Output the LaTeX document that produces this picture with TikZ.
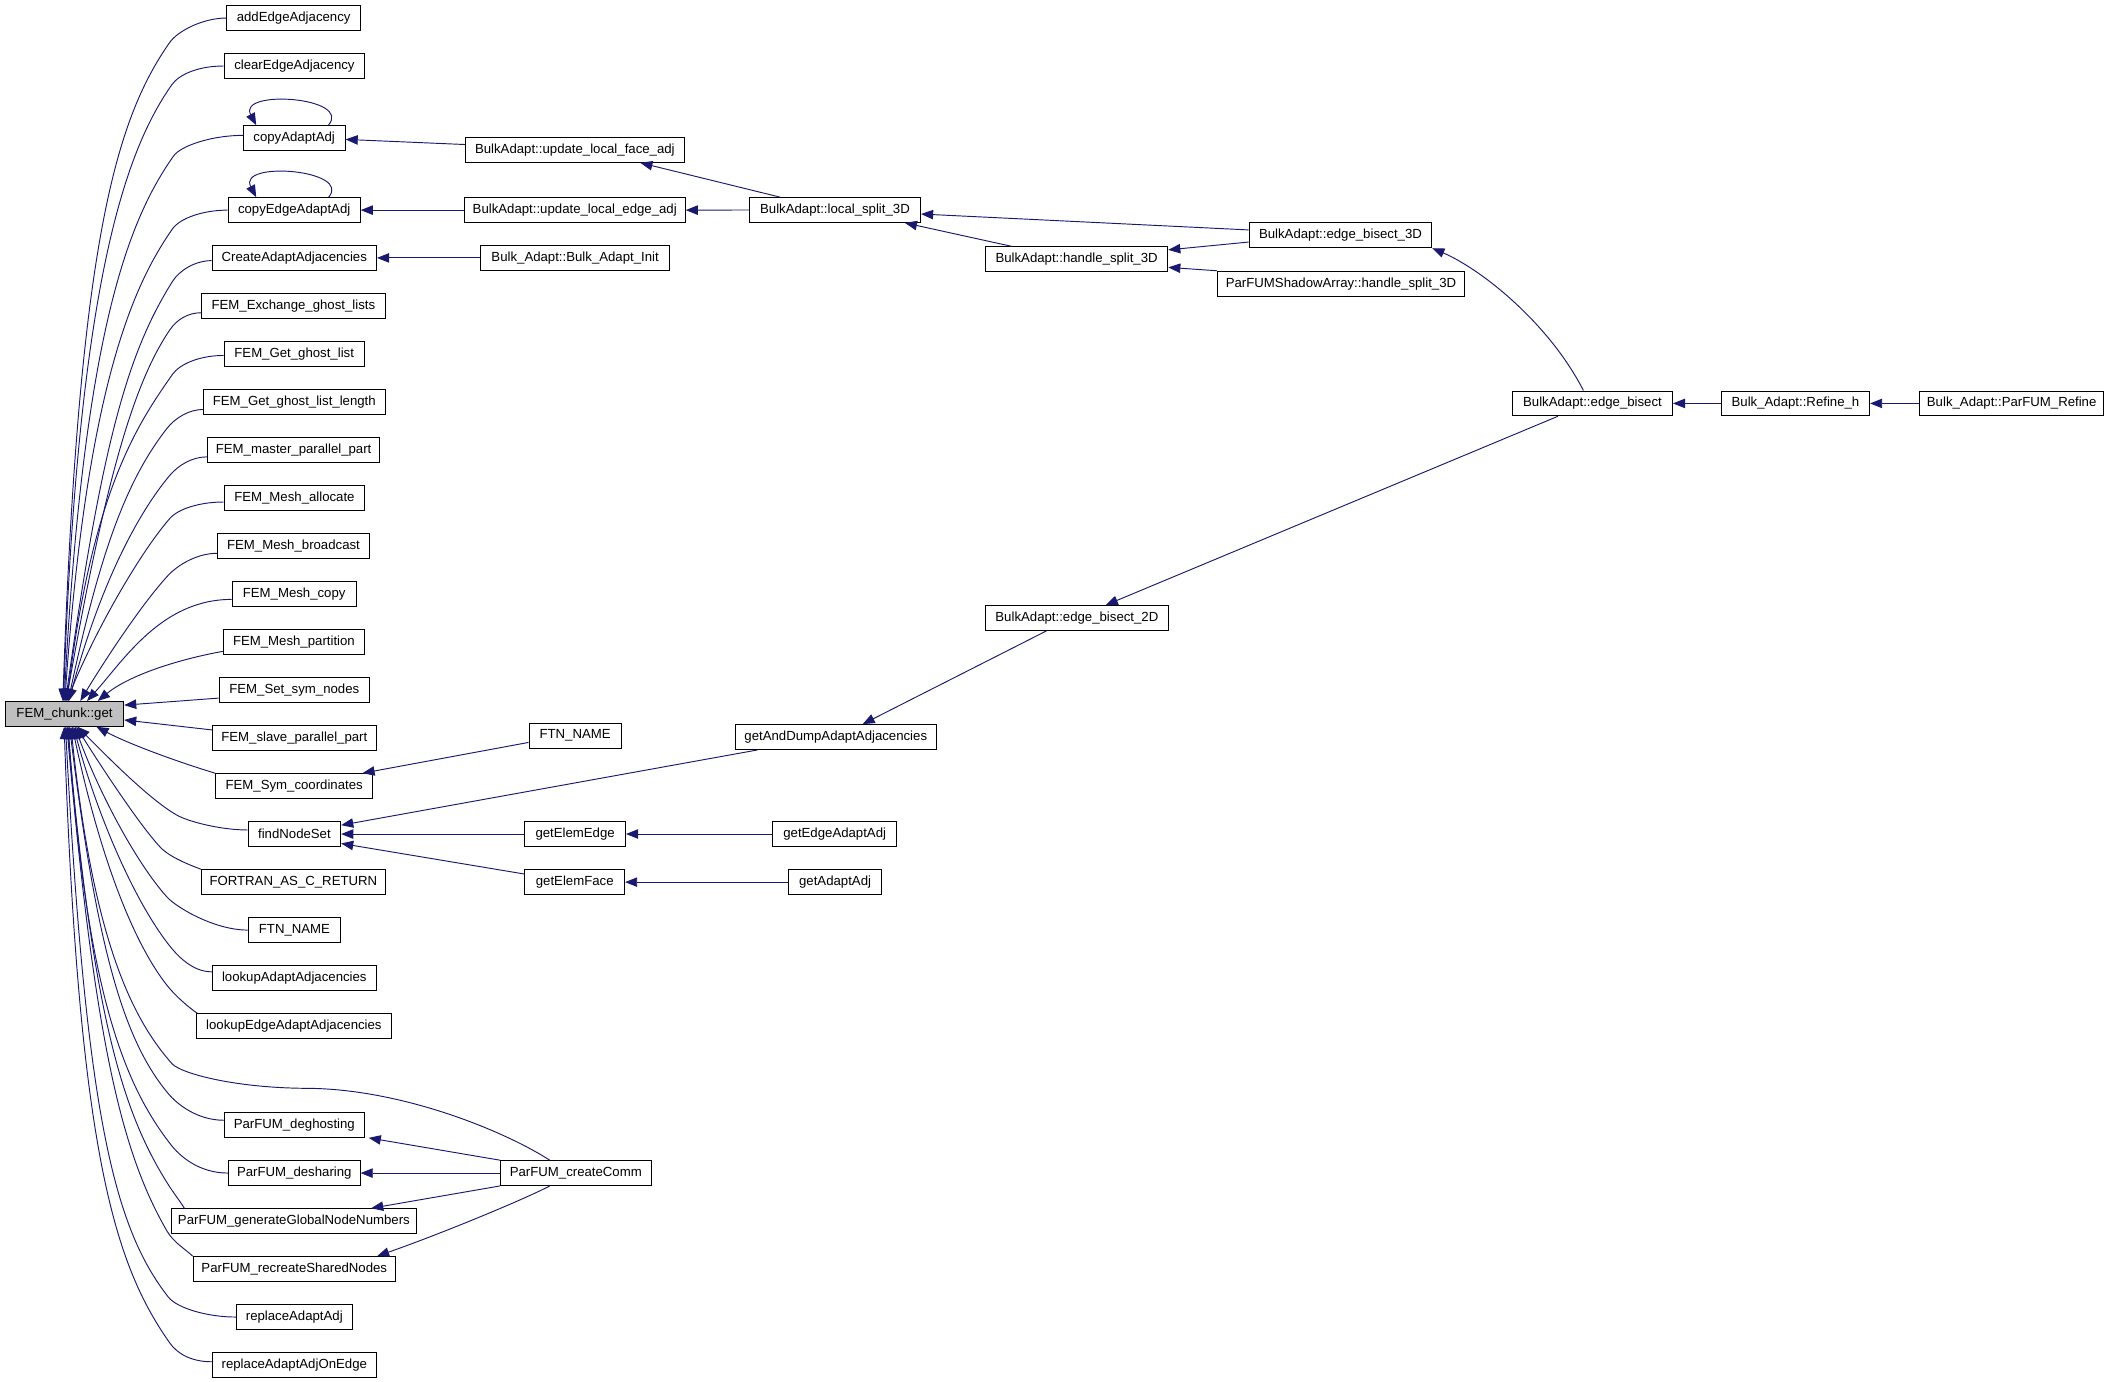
\documentclass[tikz,border=0pt]{standalone}
\usepackage{fontspec}
\setmainfont{Liberation Sans}
\usetikzlibrary{arrows.meta,calc}
\definecolor{navy}{HTML}{191970}
\definecolor{femgray}{HTML}{BFBFBF}
% #1 start, #2 c1 (relative), #3 bend point, #4 tangent angle at bend, #5 reverse angle,
% #6 length after bend, #7 tip coordinate, #8 angle of last control from tip, #9 its length
\newcommand\fc[9]{%
  \draw[edgeline] (#1) .. controls +#2 and +(#5:10) .. #3
     .. controls +(#4:#6) and +(#8:#9) .. (#7);}
\begin{document}
\begin{tikzpicture}[x=1pt,y=-1pt,
  fnbox/.style={draw=black,line width=0.75pt,fill=white,minimum height=18.4pt,
    inner xsep=2pt,inner ysep=0pt,font=\fontsize{9.8}{11}\selectfont},
  edgeline/.style={draw=navy,line width=0.7pt,-{Triangle[length=9pt,width=7pt]}}]
\useasboundingbox (0,0) rectangle (1568,1025.3);

% ---------- left column ----------
\node[fnbox,minimum width=99pt]    (addE)     at (218,13.4)   {addEdgeAdjacency};
\node[fnbox,minimum width=104.4pt] (clearE)   at (218.6,49)   {clearEdgeAdjacency};
\node[fnbox,minimum width=75.6pt]  (copyA)    at (218.4,102.5){copyAdaptAdj};
\node[fnbox,minimum width=98pt]    (copyE)    at (218.4,156)  {copyEdgeAdaptAdj};
\node[fnbox,minimum width=122pt]   (create)   at (218.5,191.5){CreateAdaptAdjacencies};
\node[fnbox,minimum width=136.5pt] (exch)     at (217.8,227.2){FEM\_Exchange\_ghost\_lists};
\node[fnbox,minimum width=104pt]   (ggl)      at (218.4,262.9){FEM\_Get\_ghost\_list};
\node[fnbox,minimum width=135pt]   (ggll)     at (218.5,298.5){FEM\_Get\_ghost\_list\_length};
\node[fnbox,minimum width=128pt]   (master)   at (218,334.2)  {FEM\_master\_parallel\_part};
\node[fnbox,minimum width=104.4pt] (alloc)    at (218.6,369.7){FEM\_Mesh\_allocate};
\node[fnbox,minimum width=113pt]   (bcast)    at (217.9,405.3){FEM\_Mesh\_broadcast};
\node[fnbox,minimum width=92.2pt]  (mcopy)    at (218.4,441)  {FEM\_Mesh\_copy};
\node[fnbox,minimum width=105pt]   (part)     at (218.2,476.6){FEM\_Mesh\_partition};
\node[fnbox,minimum width=111.7pt] (setsym)   at (218.5,512.3){FEM\_Set\_sym\_nodes};
\node[fnbox,minimum width=87.8pt,fill=femgray] (fem) at (47.9,530) {FEM\_chunk::get};
\node[fnbox,minimum width=121.7pt] (slave)    at (218.5,547.9){FEM\_slave\_parallel\_part};
\node[fnbox,minimum width=116.7pt] (symc)     at (218.4,583.6){FEM\_Sym\_coordinates};
\node[fnbox,minimum width=68.6pt]  (find)     at (218.6,619.2){findNodeSet};
\node[fnbox,minimum width=136.5pt] (fort)     at (217.8,654.9){FORTRAN\_AS\_C\_RETURN};
\node[fnbox,minimum width=68.6pt]  (ftnL)     at (218.6,690.5){FTN\_NAME};
\node[fnbox,minimum width=121.7pt] (lookup)   at (218.5,726)  {lookupAdaptAdjacencies};
\node[fnbox,minimum width=144.8pt] (lookupE)  at (218.2,761.8){lookupEdgeAdaptAdjacencies};
\node[fnbox,minimum width=103.7pt] (deghost)  at (218.5,835.2){ParFUM\_deghosting};
\node[fnbox,minimum width=97.7pt]  (deshar)   at (218.5,870.9){ParFUM\_desharing};
\node[fnbox,minimum width=181.9pt] (gen)      at (218.2,906.6){ParFUM\_generateGlobalNodeNumbers};
\node[fnbox,minimum width=150.1pt] (rec)      at (218.5,942.2){ParFUM\_recreateSharedNodes};
\node[fnbox,minimum width=85.9pt]  (rep)      at (218.5,977.8){replaceAdaptAdj};
\node[fnbox,minimum width=121.7pt] (repE)     at (218.5,1013.5){replaceAdaptAdjOnEdge};

% ---------- right part ----------
\node[fnbox,minimum width=162.4pt] (faceadj)  at (426.8,111.3){BulkAdapt::update\_local\_face\_adj};
\node[fnbox,minimum width=164pt]   (edgeadj)  at (426.7,156)  {BulkAdapt::update\_local\_edge\_adj};
\node[fnbox,minimum width=140pt]   (init)     at (427,191.5)  {Bulk\_Adapt::Bulk\_Adapt\_Init};
\node[fnbox,minimum width=127pt]   (local)    at (619.9,155.9){BulkAdapt::local\_split\_3D};
\node[fnbox,minimum width=135.3pt] (handle)   at (799.3,192.5){BulkAdapt::handle\_split\_3D};
\node[fnbox,minimum width=135.6pt] (e3d)      at (995.2,174.7){BulkAdapt::edge\_bisect\_3D};
\node[fnbox,minimum width=183.2pt] (shadow)   at (995.6,210.6){ParFUMShadowArray::handle\_split\_3D};
\node[fnbox,minimum width=118.7pt] (ebis)     at (1182.3,299.5){BulkAdapt::edge\_bisect};
\node[fnbox,minimum width=110pt]   (refine)   at (1333,299.5) {Bulk\_Adapt::Refine\_h};
\node[fnbox,minimum width=137pt]   (prefine)  at (1493.5,299.5){Bulk\_Adapt::ParFUM\_Refine};
\node[fnbox,minimum width=136.4pt] (e2d)      at (799.5,458.8){BulkAdapt::edge\_bisect\_2D};
\node[fnbox,minimum width=68.5pt]  (ftnR)     at (427,546.2)  {FTN\_NAME};
\node[fnbox,minimum width=149.4pt] (dump)     at (620.5,547.2){getAndDumpAdaptAdjacencies};
\node[fnbox,minimum width=74.7pt]  (gee)      at (427,619.2)  {getElemEdge};
\node[fnbox,minimum width=91.7pt]  (geaa)     at (619.7,619.2){getEdgeAdaptAdj};
\node[fnbox,minimum width=74pt]    (gef)      at (426.7,654.9){getElemFace};
\node[fnbox,minimum width=68.6pt]  (gaa)      at (620,654.9)  {getAdaptAdj};
\node[fnbox,minimum width=112pt]   (comm)     at (427.5,870.9){ParFUM\_createComm};

% ---------- arrow tips on FEM_chunk::get ----------
\foreach \n/\d in {1/43,2/43.5,3/44,4/44.5,5/45,6/45.5,7/46,8/47,9/47.5,10/46,11/56,12/61,13/69}
  \coordinate (tU\n) at ([xshift=\d pt]fem.north west);
\foreach \n/\d in {1/68,2/54,3/53,4/52,5/51,6/50,7/49,8/48,9/47,10/46.5,11/46,12/45,13/44}
  \coordinate (tL\n) at ([xshift=\d pt]fem.south west);

% ---------- edges into FEM_chunk::get (upper) ----------
\fc{addE.west}{(-18,0)}{(126,31.5)}{125}{305}{70}{tU1}{272}{340}
\fc{clearE.west}{(-18,0)}{(127.5,63)}{125}{305}{58}{tU2}{272}{315}
\fc{[yshift=2pt]copyA.west}{(-22,0)}{(128.7,116)}{125}{305}{55}{tU3}{273}{280}
\fc{copyE.west}{(-18,0)}{(128,170)}{125}{305}{50}{tU4}{274}{235}
\fc{[yshift=-2pt]create.west}{(-12,0)}{(128,209)}{122}{302}{60}{tU5}{278}{200}
\fc{[yshift=-5pt]exch.west}{(-9,0)}{(126,245)}{124}{304}{45}{tU6}{280}{175}
\fc{[yshift=-1pt]ggl.west}{(-17,0)}{(128,278)}{125}{305}{45}{tU7}{277}{158}
\fc{[yshift=-5.5pt]ggll.west}{(-10,0)}{(124,318)}{128}{308}{45}{tU8}{282}{120}
\fc{[yshift=-5pt]master.west}{(-11,0)}{(126,353)}{130}{310}{40}{tU9}{285}{85}
\fc{[yshift=-3pt]alloc.west}{(-17,0)}{(126,385)}{131}{311}{35}{tU10}{292}{55}
\fc{[yshift=-5.5pt]bcast.west}{(-15,0)}{(125,427)}{133}{313}{30}{tU11}{301}{30}
\draw[edgeline] ([yshift=-4pt]mcopy.west) .. controls (120,445) and (92,490) .. (tU12);
\draw[edgeline] ([yshift=-7pt]part.west) .. controls (130,490) and (95,502) .. (tU13);
\draw[edgeline] ([yshift=-6pt]setsym.west) -- ([yshift=6.5pt]fem.east);
\draw[edgeline] ([yshift=6pt]slave.west) -- ([yshift=-4.5pt]fem.east);

% ---------- edges into FEM_chunk::get (lower) ----------
\draw[edgeline] (symc.north west) .. controls (130,565) and (95,552) .. (tL1);
\fc{[yshift=3pt]find.west}{(-20,0)}{(131,605)}{210}{30}{25}{tL2}{45}{25}
\fc{fort.north west}{(-8,-3)}{(119,629)}{227}{47}{25}{tL3}{58}{25}
\fc{ftnL.west}{(-25,0)}{(124,666)}{228}{48}{35}{tL4}{70}{50}
\fc{[yshift=4.5pt]lookup.west}{(-15,0)}{(125,701)}{232}{52}{40}{tL5}{75}{70}
\fc{[xshift=1pt]lookupE.north west}{(-6,-4)}{(123.8,731.3)}{232}{52}{45}{tL6}{78}{90}
\draw[edgeline] ([xshift=37pt]comm.north west) .. controls (375,840) and (300,809) .. (230,808)
   .. controls (175,808) and (135.1,797.1) .. (128,790)
   .. controls +(228:50) and +(84:150) .. (tL7);
\fc{[yshift=3.5pt]deghost.west}{(-20,0)}{(125,812)}{230}{50}{50}{tL8}{83}{170}
\fc{deshar.west}{(-22,0)}{(127,850)}{232}{52}{55}{tL9}{86}{200}
\fc{[xshift=10pt]gen.north west}{(-3,-5)}{(124,878)}{238}{58}{60}{tL10}{85}{220}
\fc{rec.north west}{(-5,-5)}{(124,914)}{240}{60}{65}{tL11}{85}{240}
\fc{rep.west}{(-22,0)}{(125,963)}{232}{52}{65}{tL12}{87}{290}
\fc{[yshift=2.5pt]repE.west}{(-15,0)}{(126,997)}{235}{55}{70}{tL13}{88}{320}

% ---------- self loops ----------
\draw[edgeline] ([xshift=63.6pt]copyA.north west) .. controls (262,72) and (176,66) .. ([xshift=10pt]copyA.north west);
\draw[edgeline] ([xshift=74.9pt]copyE.north west) .. controls (262,126) and (176,119) .. ([xshift=21.2pt]copyE.north west);

% ---------- right-side edges ----------
\draw[edgeline] ([yshift=4pt]faceadj.west) -- ([yshift=-1pt]copyA.east);
\draw[edgeline] (edgeadj.west) -- (copyE.east);
\draw[edgeline] (init.west) -- (create.east);
\draw[edgeline] ([xshift=23pt]local.north west) -- ([xshift=-33pt]faceadj.south east);
\draw[edgeline] (local.west) -- (edgeadj.east);
\draw[edgeline] ([yshift=4pt]e3d.west) -- ([yshift=-3pt]local.east);
\draw[edgeline] ([xshift=20pt]handle.north west) -- ([xshift=-12pt]local.south east);
\draw[edgeline] ([yshift=-5pt]e3d.west) -- ([yshift=7pt]handle.east);
\draw[edgeline] (shadow.north west) -- ([yshift=-6pt]handle.east);
\draw[edgeline] ([xshift=53pt]ebis.north west) .. controls (1150,240) and (1100,200) .. (e3d.south east);
\draw[edgeline] (refine.west) -- (ebis.east);
\draw[edgeline] (prefine.west) -- (refine.east);
\draw[edgeline] ([xshift=34pt]ebis.south west) -- ([xshift=90pt]e2d.north west);
\draw[edgeline] ([xshift=46pt]e2d.south west) -- ([xshift=95pt]dump.north west);
\draw[edgeline] ([xshift=17pt]dump.south west) -- ([yshift=-3pt]find.north east);
\draw[edgeline] (gee.west) -- (find.east);
\draw[edgeline] ([yshift=6pt]gef.west) -- ([yshift=-7pt]find.east);
\draw[edgeline] (geaa.west) -- (gee.east);
\draw[edgeline] (gaa.west) -- (gef.east);
\draw[edgeline] ([yshift=-5pt]ftnR.west) -- ([xshift=-8pt]symc.north east);
\draw[edgeline] (comm.north west) -- ([xshift=3pt]deghost.south east);
\draw[edgeline] (comm.west) -- (deshar.east);
\draw[edgeline] (comm.south west) -- ([xshift=-34pt]gen.north east);
\draw[edgeline] ([xshift=37pt]comm.south west) .. controls (390,890) and (330,915) .. ([xshift=-14pt]rec.north east);
\end{tikzpicture}
\end{document}
